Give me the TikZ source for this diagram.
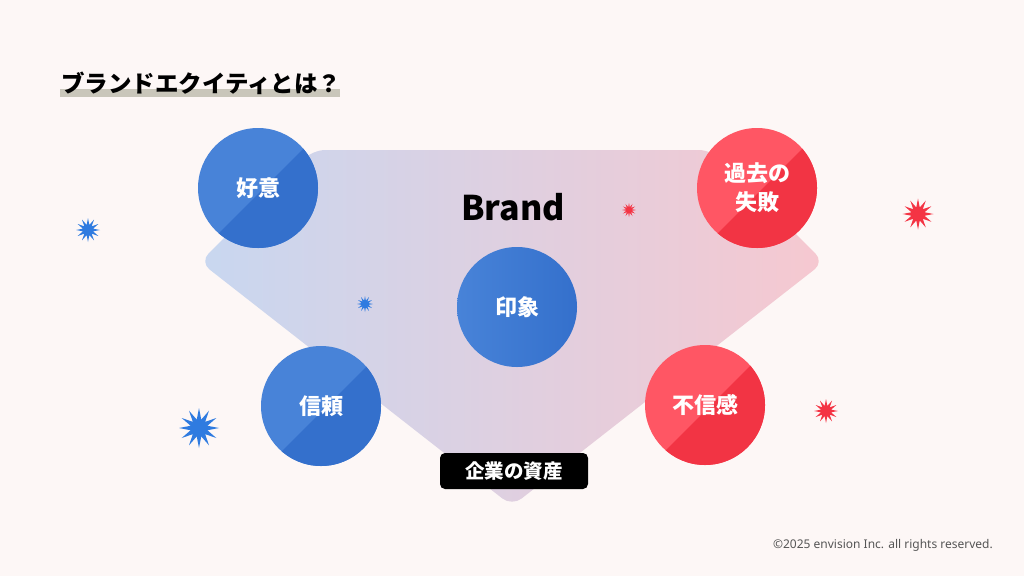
\documentclass[tikz,border=0pt]{standalone}
\usepackage{fontspec}
\setmainfont{Noto Sans CJK JP}
\newfontfamily\lat{Noto Sans}
\usetikzlibrary{shapes.geometric}
\definecolor{bg}{HTML}{FDF7F6}
\definecolor{fl}{HTML}{C8D7F0}
\definecolor{fr}{HTML}{F6C8D0}
\definecolor{bl1}{HTML}{4883D8}
\definecolor{bl2}{HTML}{3470CC}
\definecolor{rd1}{HTML}{FF5664}
\definecolor{rd2}{HTML}{F23444}
\definecolor{sb}{HTML}{2F7BE0}
\definecolor{sr}{HTML}{F43444}
\definecolor{hl}{HTML}{C9C6BA}
\definecolor{cp}{HTML}{555555}
\tikzset{
  bubble/.style={circle, minimum size=120pt, inner sep=0pt, text=white, align=center,
    font=\bfseries\fontsize{22}{29}\selectfont},
  bluebub/.style={bubble, fill=bl1, path picture={\fill[bl2] ([xshift=6pt]path picture bounding box.north east) -- ([yshift=-6pt]path picture bounding box.south east) -- ([xshift=6pt]path picture bounding box.south west) -- cycle;}},
  redbub/.style={bubble, fill=rd1, path picture={\fill[rd2] ([xshift=6pt]path picture bounding box.north east) -- ([yshift=-6pt]path picture bounding box.south east) -- ([xshift=6pt]path picture bounding box.south west) -- cycle;}},
  burst/.style={star, star points=12, star point ratio=2.3, inner sep=0pt, fill=#1, draw=none},
}
\begin{document}
\begin{tikzpicture}[x=1pt,y=-1pt]
\useasboundingbox (0,0) rectangle (1024,576);
\fill[bg] (0,0) rectangle (1024,576);
% funnel
\shade[left color=fl, right color=fr, rounded corners=12pt]
  (313,150) -- (711,150) -- (824,262) -- (512,506) -- (200,262) -- cycle;
% title
\fill[hl] (60,89) rectangle (340,97);
\node[anchor=west, inner sep=0pt, font=\bfseries\fontsize{23.5}{23.5}\selectfont] (title) at (61,83) {ブランドエクイティとは？};
% brand
\node[font=\bfseries\fontsize{34}{34}\selectfont, inner sep=0pt] (brand) at (513,207) {Brand};
% bubbles
\node[bluebub] (koui) at (258,188) {好意};
\node[redbub] (kako) at (757,188) {過去の\\失敗};
\node[bubble, shade, shading angle=135, left color=bl1, right color=bl2] (insho) at (517,307) {印象};
\node[bluebub] (shinrai) at (321,406) {信頼};
\node[redbub] (fushin) at (705,405) {不信感};
% label
\node[fill=black, rounded corners=5pt, text=white, font=\bfseries\fontsize{19.5}{19.5}\selectfont,
  minimum width=148pt, minimum height=36pt, inner sep=0pt] (asset) at (514,471) {企業の資産};
% bursts
\node[burst=sb, minimum size=24pt] (b1) at (88,230) {};
\node[burst=sb, minimum size=40pt] (b2) at (199,428) {};
\node[burst=sb, minimum size=16pt] (b3) at (365,304) {};
\node[burst=sr, minimum size=31pt] (r1) at (918,214) {};
\node[burst=sr, minimum size=24pt] (r2) at (826,411) {};
\node[burst=sr, minimum size=14pt] (r3) at (629,210) {};
% copyright
\node[anchor=east, inner sep=0pt, text=cp, font=\lat\fontsize{12}{12}\selectfont] (copy) at (993,545) {©2025 envision Inc. all rights reserved.};
\end{tikzpicture}
\end{document}
